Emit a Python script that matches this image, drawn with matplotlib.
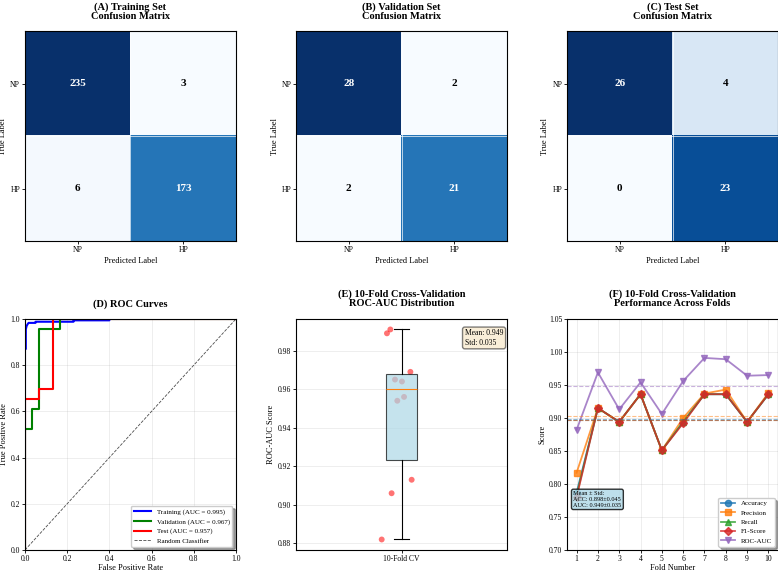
import numpy as np
import matplotlib
matplotlib.use("Agg")
import matplotlib.pyplot as plt

plt.rcParams['font.family'] = ['Liberation Serif', 'DejaVu Serif']

# confusion matrices (rows = true NP/HP, cols = predicted NP/HP)
class_names = ['NP', 'HP']
cm_train = [[235, 3], [6, 173]]
cm_val = [[28, 2], [2, 21]]
cm_test = [[26, 4], [0, 23]]

# ROC curve points
train_fpr = [0, 0, 0.004, 0.004, 0.008, 0.013, 0.017, 0.05, 0.05, 0.23, 0.23, 0.4, 0.4, 1.0]
train_tpr = [0, 0.87, 0.87, 0.955, 0.97, 0.978, 0.983, 0.983, 0.988, 0.988, 0.994, 0.994, 1.0, 1.0]
val_fpr = [0, 0, 0.033, 0.033, 0.067, 0.067, 0.167, 0.167, 1.0]
val_tpr = [0, 0.522, 0.522, 0.609, 0.609, 0.957, 0.957, 1.0, 1.0]
test_fpr = [0, 0, 0.067, 0.067, 0.133, 0.133, 1.0]
test_tpr = [0, 0.652, 0.652, 0.696, 0.696, 1.0, 1.0]
auc_train, auc_val, auc_test = 0.995, 0.967, 0.957

# 10-fold CV metrics
folds = list(range(1, 11))
accuracy = [0.787, 0.915, 0.894, 0.936, 0.851, 0.894, 0.936, 0.936, 0.894, 0.936]
precision = [0.817, 0.915, 0.894, 0.936, 0.851, 0.900, 0.937, 0.943, 0.894, 0.938]
recall = [0.783, 0.915, 0.894, 0.936, 0.851, 0.894, 0.936, 0.936, 0.894, 0.936]
f1 = [0.780, 0.915, 0.894, 0.936, 0.851, 0.892, 0.936, 0.936, 0.894, 0.936]
roc_auc = [0.882, 0.969, 0.913, 0.954, 0.906, 0.956, 0.991, 0.989, 0.964, 0.965]
# horizontal jitter of the strip points in (E)
jitter = [-0.094, 0.042, 0.048, -0.02, -0.047, 0.012, -0.053, -0.069, 0.002, -0.031]

fig = plt.figure(figsize=(7.78, 5.71), dpi=100)

lefts = [0.0321, 0.3805, 0.7288]
w = 0.2712
top_b, top_h = 0.5779, 0.3678
bot_b, bot_h = 0.0368, 0.4046
TITLE = dict(fontsize=7.5, fontweight='bold', pad=9, linespacing=1.0)

def draw_cm(ax, cm, title):
    cm = np.array(cm)
    ax.imshow(cm, cmap='Blues', aspect='auto')
    thresh = cm.max() / 2
    for i in range(2):
        for j in range(2):
            ax.text(j, i, str(cm[i, j]), ha='center', va='center', fontsize=8,
                    fontweight='bold', color='white' if cm[i, j] > thresh else 'black')
    ax.set_xticks([0, 1])
    ax.set_yticks([0, 1])
    ax.set_xticklabels(class_names, fontsize=5.5)
    ax.set_yticklabels(class_names, fontsize=5.5)
    ax.set_xticks([-0.5, 0.5, 1.5], minor=True)
    ax.set_yticks([-0.5, 0.5, 1.5], minor=True)
    ax.grid(which='minor', color='white', linewidth=0.6, alpha=0.8)
    ax.tick_params(which='minor', length=0)
    ax.tick_params(which='major', length=2, width=0.6, pad=1.5)
    ax.set_xlabel('Predicted Label', fontsize=6, labelpad=2)
    ax.set_ylabel('True Label', fontsize=6, labelpad=2)
    ax.set_title(title, **TITLE)
    for s in ax.spines.values():
        s.set_linewidth(0.8)

ax_a = fig.add_axes([lefts[0], top_b, w, top_h])
draw_cm(ax_a, cm_train, '(A) Training Set\nConfusion Matrix')
ax_b = fig.add_axes([lefts[1], top_b, w, top_h])
draw_cm(ax_b, cm_val, '(B) Validation Set\nConfusion Matrix')
ax_c = fig.add_axes([lefts[2], top_b, w, top_h])
draw_cm(ax_c, cm_test, '(C) Test Set\nConfusion Matrix')

# (D) ROC curves
ax_d = fig.add_axes([lefts[0], bot_b, w, bot_h])
ax_d.plot(train_fpr, train_tpr, color='blue', lw=1.5, label=f'Training (AUC = {auc_train:.3f})')
ax_d.plot(val_fpr, val_tpr, color='green', lw=1.5, label=f'Validation (AUC = {auc_val:.3f})')
ax_d.plot(test_fpr, test_tpr, color='red', lw=1.5, label=f'Test (AUC = {auc_test:.3f})')
ax_d.plot([0, 1], [0, 1], 'k--', lw=0.6, alpha=0.7, label='Random Classifier')
ax_d.set_xlim(0, 1)
ax_d.set_ylim(0, 1)
ax_d.set_xlabel('False Positive Rate', fontsize=6, labelpad=1)
ax_d.set_ylabel('True Positive Rate', fontsize=6, labelpad=2)
ax_d.set_title('(D) ROC Curves', **TITLE)
ax_d.tick_params(labelsize=5.5, length=2, width=0.6, pad=1.5)
ax_d.grid(alpha=0.3, lw=0.5)
ax_d.legend(loc='lower right', fontsize=5, shadow=True, fancybox=True, handlelength=2.5)

# (E) box plot of CV ROC-AUC
ax_e = fig.add_axes([lefts[1], bot_b, w, bot_h])
ax_e.scatter(1 + np.array(jitter), roc_auc, color='red', alpha=0.55, s=18, zorder=1, edgecolors='none')
bp = ax_e.boxplot([roc_auc], widths=0.15, patch_artist=True, zorder=2,
                  medianprops=dict(color='#ff7f0e', lw=0.8),
                  whiskerprops=dict(lw=0.8), capprops=dict(lw=0.8),
                  boxprops=dict(lw=0.8), showfliers=False)
for patch in bp['boxes']:
    patch.set_facecolor('lightblue')
    patch.set_alpha(0.7)
ax_e.set_xlim(0.5, 1.5)
ax_e.set_xticks([1])
ax_e.set_xticklabels(['10-Fold CV'])
ax_e.set_ylabel('ROC-AUC Score', fontsize=6, labelpad=2)
ax_e.set_title('(E) 10-Fold Cross-Validation\nROC-AUC Distribution', **TITLE)
ax_e.tick_params(labelsize=5.5, length=2, width=0.6, pad=1.5)
ax_e.grid(axis='y', alpha=0.3, lw=0.5)
ax_e.text(0.80, 0.955, f'Mean: {np.mean(roc_auc):.3f}\nStd: {np.std(roc_auc):.3f}',
          transform=ax_e.transAxes, fontsize=5.5, va='top', ha='left',
          bbox=dict(boxstyle='round', facecolor='wheat', alpha=0.5))

# (F) metrics across folds
ax_f = fig.add_axes([lefts[2], bot_b, w, bot_h])
series = [('Accuracy', accuracy, 'o', '#1f77b4'),
          ('Precision', precision, 's', '#ff7f0e'),
          ('Recall', recall, '^', '#2ca02c'),
          ('F1-Score', f1, 'D', '#d62728'),
          ('ROC-AUC', roc_auc, 'v', '#9467bd')]
for name, vals, mk, col in series:
    ax_f.plot(folds, vals, marker=mk, color=col, lw=1.3, ms=4.5, alpha=0.8, label=name)
for name, vals, mk, col in series:
    ax_f.axhline(np.mean(vals), color=col, ls='--', lw=0.8, alpha=0.5)
ax_f.set_ylim(0.70, 1.05)
ax_f.set_xticks(folds)
ax_f.set_xlabel('Fold Number', fontsize=6, labelpad=1)
ax_f.set_ylabel('Score', fontsize=6, labelpad=2)
ax_f.set_title('(F) 10-Fold Cross-Validation\nPerformance Across Folds', **TITLE)
ax_f.tick_params(labelsize=5.5, length=2, width=0.6, pad=1.5)
ax_f.grid(alpha=0.3, lw=0.5)
ax_f.legend(loc='lower right', fontsize=5, shadow=True, fancybox=True)
ax_f.text(0.03, 0.255,
          f'Mean ± Std:\nACC: {np.mean(accuracy):.3f}±{np.std(accuracy):.3f}\n'
          f'AUC: {np.mean(roc_auc):.3f}±{np.std(roc_auc):.3f}',
          transform=ax_f.transAxes, fontsize=4.5, va='top', ha='left',
          bbox=dict(boxstyle='round', facecolor='lightblue', alpha=0.8))

fig.savefig('out.png', dpi=100)
